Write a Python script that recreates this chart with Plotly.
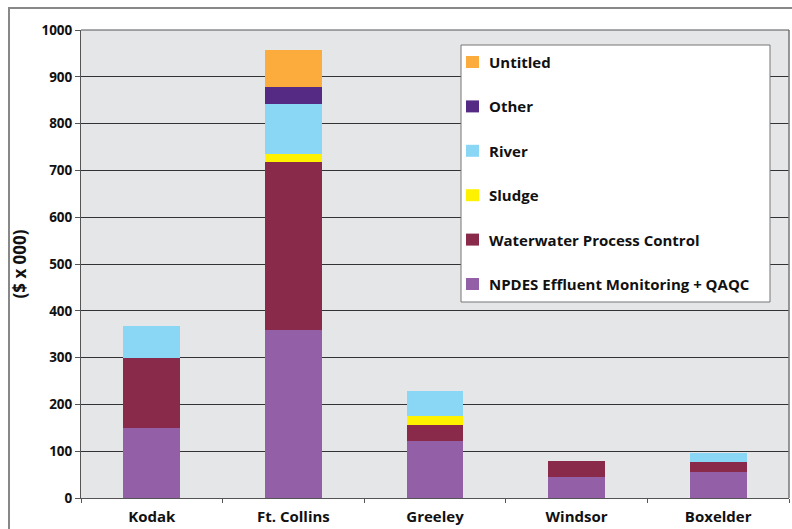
import plotly.graph_objects as go

categories = ["Kodak", "Ft. Collins", "Greeley", "Windsor", "Boxelder"]
npdes = [150, 360, 122, 45, 56]
wastewater = [150, 358, 34, 34, 21]
sludge = [0, 18, 19, 0, 0]
river = [68, 105, 53, 0, 19]
other = [0, 38, 0, 0, 0]
untitled = [0, 78, 0, 0, 0]

series = [
    ("NPDES Effluent Monitoring + QAQC", npdes, "#9360a8"),
    ("Waterwater Process Control", wastewater, "#8a2a4b"),
    ("Sludge", sludge, "#fff200"),
    ("River", river, "#8ad6f5"),
    ("Other", other, "#552a84"),
    ("Untitled", untitled, "#fbac3c"),
]

FONT = "Open Sans"
L, R, T, B = 81, 3, 30, 31
PW, PH = 792 - L - R, 529 - T - B


def px_x(x):
    return (x - L) / PW


def px_y(y):
    return (529 - B - y) / PH


fig = go.Figure()
for name, vals, color in series:
    fig.add_trace(go.Bar(
        x=categories, y=vals, name=name, marker_color=color,
        marker_line_width=0, showlegend=False,
    ))

shapes = [
    dict(type="rect", xref="paper", yref="paper",
         x0=px_x(9), x1=1.2, y0=-0.2, y1=px_y(8),
         line=dict(color="#888", width=2), fillcolor="rgba(0,0,0,0)", layer="below"),
    dict(type="line", xref="paper", yref="paper", x0=1, x1=1, y0=0, y1=1,
         line=dict(color="#777", width=1.5)),
    dict(type="line", xref="paper", yref="paper", x0=0, x1=1, y0=1, y1=1,
         line=dict(color="#555", width=1)),
    # legend box
    dict(type="rect", xref="paper", yref="paper",
         x0=px_x(461), x1=px_x(770), y0=px_y(302), y1=px_y(45),
         line=dict(color="#777", width=1), fillcolor="white", layer="above"),
]
annotations = []
for i, (name, vals, color) in enumerate(reversed(series)):
    yc = 62 + i * 44.4
    shapes.append(dict(type="rect", xref="paper", yref="paper",
                       x0=px_x(466), x1=px_x(479), y0=px_y(yc + 6), y1=px_y(yc - 6),
                       line=dict(width=0), fillcolor=color, layer="above"))
    annotations.append(dict(
        text=name, xref="paper", yref="paper", x=px_x(487), y=px_y(yc),
        xanchor="left", yanchor="middle", showarrow=False,
        font=dict(family=FONT, size=15, weight="bold", color="#111"),
    ))

fig.update_layout(
    barmode="stack",
    bargap=0.6,
    width=792, height=529,
    margin=dict(l=L, r=R, t=T, b=B),
    paper_bgcolor="white",
    plot_bgcolor="#e5e6e8",
    font=dict(family=FONT, size=13, color="#111"),
    showlegend=False,
    shapes=shapes,
    annotations=annotations,
)

fig.update_yaxes(
    range=[0, 1000], dtick=100,
    showgrid=True, gridcolor="#333", gridwidth=1,
    showline=True, linecolor="#555", linewidth=1,
    ticks="outside", ticklen=5, tickcolor="#555",
    tickfont=dict(family=FONT, size=13.5, weight="bold", color="#111"),
    title=dict(text="($ x 000)", font=dict(family=FONT, size=17, weight="bold", color="#111"), standoff=10),
    zeroline=False,
)
fig.update_xaxes(
    showline=True, linecolor="#555", linewidth=1,
    ticks="outside", ticklen=4, tickcolor="#555", tickson="boundaries",
    tickfont=dict(family=FONT, size=15, weight="bold", color="#111"),
    ticklabelstandoff=5,
)

fig.write_html("out.html")
